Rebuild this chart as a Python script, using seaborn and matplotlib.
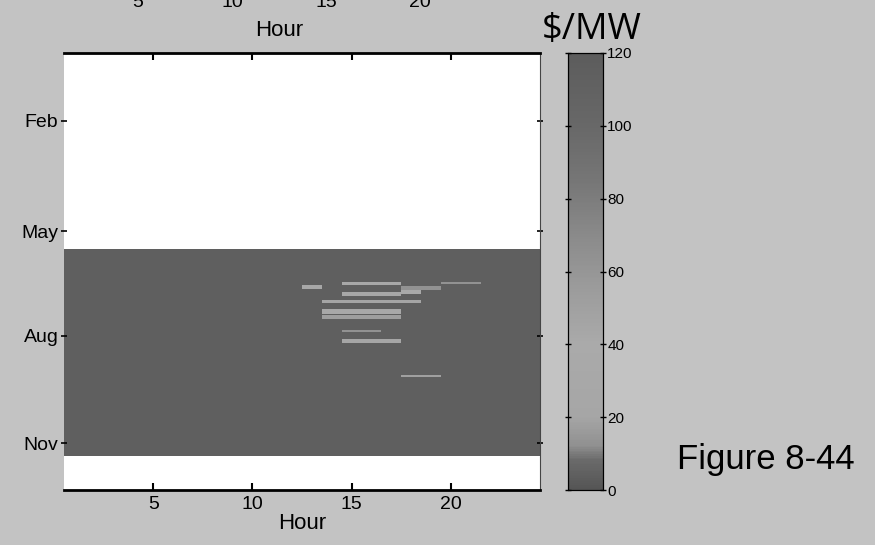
import numpy as np
import pandas as pd
import seaborn as sns
import matplotlib.pyplot as plt
from matplotlib.colors import LinearSegmentedColormap

plt.rcParams['font.family'] = ['Liberation Sans', 'DejaVu Sans']

# day-of-year x hour prices, $/MW
hours = list(range(1, 25))
n_days = 365
first_day = 165          # first day with data
last_day = 337           # last day with data
base_price = 4.0         # flat low price over most of the period

# lighter streaks seen in the picture
streak_start_day = [192, 195, 196, 192, 199, 201, 207, 215, 220, 232, 240, 270]
streak_end_day   = [194, 197, 198, 193, 201, 203, 209, 218, 222, 233, 242, 271]
streak_start_hr  = [15, 13, 18, 20, 18, 15, 14, 14, 14, 15, 15, 18]
streak_end_hr    = [17, 13, 19, 21, 18, 17, 18, 17, 17, 16, 17, 19]
streak_price     = [30, 24, 13, 13, 36, 24, 20, 32, 17, 13, 22, 18]

hour_ticks = [5, 10, 15, 20]
month_labels = ['Feb', 'May', 'Aug', 'Nov']
month_pos = [56.5, 149, 236, 326]
cbar_ticks = [0, 20, 40, 60, 80, 100, 120]

# grey version of the colour scale in the picture
cmap_pos = [0, 8, 12, 20, 40, 55, 70, 85, 100, 120]
cmap_grey = ['#555555', '#6a6a6a', '#909090', '#a6a6a6', '#aaaaaa',
             '#9c9c9c', '#8a8a8a', '#767676', '#686868', '#5c5c5c']
cmap = LinearSegmentedColormap.from_list(
    'greyjet', [(p / 120, c) for p, c in zip(cmap_pos, cmap_grey)])

price = np.full((n_days, len(hours)), np.nan)
price[first_day - 1:last_day, :] = base_price
for d0, d1, h0, h1, v in zip(streak_start_day, streak_end_day,
                             streak_start_hr, streak_end_hr, streak_price):
    price[d0 - 1:d1, h0 - 1:h1] = v
df = pd.DataFrame(price, index=range(1, n_days + 1), columns=hours)

fig = plt.figure(figsize=(8.75, 5.45), dpi=100)
fig.patch.set_facecolor('#c3c3c3')

ax = fig.add_axes([64 / 875, 1 - 490 / 545, 476 / 875, 437 / 545])
cax = fig.add_axes([568 / 875, 1 - 490 / 545, 35 / 875, 437 / 545])

sns.heatmap(df, ax=ax, cmap=cmap, vmin=0, vmax=120, cbar_ax=cax,
            xticklabels=False, yticklabels=False, linewidths=0)
ax.set_facecolor('white')

ax.set_xticks([h - 0.5 for h in hour_ticks])
ax.set_xticklabels([str(h) for h in hour_ticks], fontsize=14)
ax.set_yticks(month_pos)
ax.set_yticklabels(month_labels, fontsize=14, rotation=0)
ax.tick_params(axis='x', direction='in', top=True, bottom=True,
               length=5, width=1.5, pad=4)
ax.tick_params(axis='y', direction='inout', left=True, right=True,
               length=4, width=1.2, pad=2)
ax.set_xlabel('Hour', fontsize=16, labelpad=0)
ax.set_ylabel('')
for side in ['top', 'bottom']:
    ax.spines[side].set_visible(True)
    ax.spines[side].set_linewidth(2)
    ax.spines[side].set_color('black')
ax.spines['right'].set_visible(True)
ax.spines['right'].set_linewidth(0.8)
ax.spines['right'].set_color('#444444')

# colour bar
cax.set_yticks(cbar_ticks)
cax.set_yticklabels([str(t) for t in cbar_ticks], fontsize=11)
cax.tick_params(direction='inout', left=True, right=True, length=4,
                width=1, pad=1)
for sp in cax.spines.values():
    sp.set_visible(True)
    sp.set_color('black')
    sp.set_linewidth(0.8)
fig.text(592 / 875, 1 - 30 / 545, '$/MW', fontsize=26, family='Open Sans',
         ha='center', va='center')

# axis of the chart above, mostly cut off by the page edge
top_ax = fig.add_axes([53 / 875, 1 + 16 / 545, 452 / 875, 0.3])
top_ax.set_xlim(0.5, 24.5)
top_ax.set_xticks(hour_ticks)
top_ax.set_xticklabels([str(h) for h in hour_ticks], fontsize=14)
top_ax.set_yticks([])
top_ax.tick_params(axis='x', length=0, pad=7)
top_ax.set_xlabel('Hour', fontsize=16, labelpad=7)
top_ax.patch.set_visible(False)
for sp in top_ax.spines.values():
    sp.set_visible(False)

fig.text(766 / 875, 1 - 460 / 545, 'Figure 8-44', fontsize=25,
         ha='center', va='center')

plt.savefig('out.png', dpi=100, facecolor=fig.get_facecolor())
